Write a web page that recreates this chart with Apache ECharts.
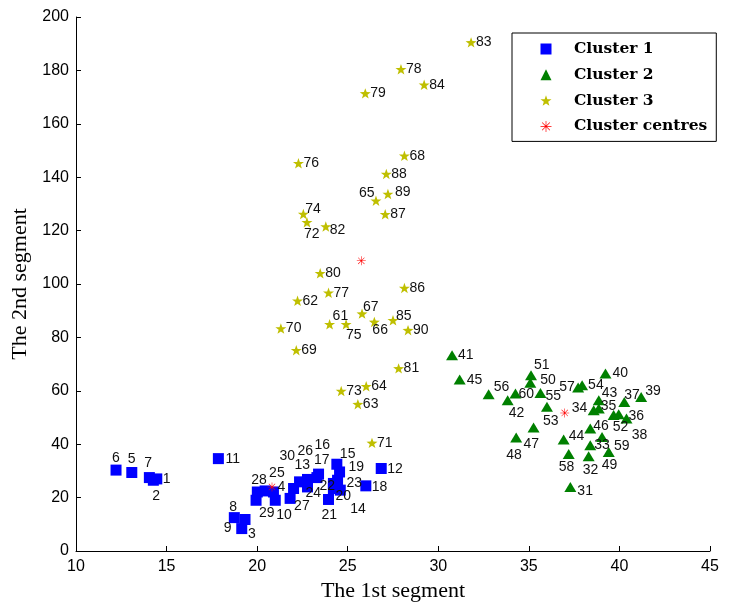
<!DOCTYPE html>
<html>
<head>
<meta charset="utf-8">
<script src="https://cdn.jsdelivr.net/npm/echarts@6/dist/echarts.min.js"></script>
<style>
html,body{margin:0;padding:0;background:#fff;}
#chart{width:733px;height:606px;}
</style>
</head>
<body>
<div id="chart"></div>
<script>
// ---------- data ----------
const xTicks = [10, 15, 20, 25, 30, 35, 40, 45];
const yTicks = [0, 20, 40, 60, 80, 100, 120, 140, 160, 180, 200];

const cluster1Ids = [1,2,3,4,5,6,7,8,9,10,11,12,13,14,15,16,17,18,19,20,21,22,23,24,25,26,27,28,29,30];
const cluster1X = [14.46,14.27,19.33,20.90,13.08,12.21,14.05,18.74,19.15,21.00,17.86,26.85,22.34,24.59,24.40,23.39,23.30,26.00,24.55,24.21,23.94,24.21,24.44,22.78,20.44,22.78,21.82,20.01,19.94,22.01];
const cluster1Y = [27.0,26.5,11.8,22.1,29.4,30.3,27.5,12.5,8.4,19.0,34.6,30.9,25.9,22.8,32.5,28.8,27.5,24.4,29.6,23.4,19.3,25.3,26.5,24.0,22.5,26.8,19.7,22.1,19.0,23.4];

const cluster2Ids = [31,32,33,34,35,36,37,38,39,40,41,42,43,44,45,46,47,48,49,50,51,52,53,54,55,56,57,58,59,60];
const cluster2X = [37.29,38.30,38.39,38.58,38.86,40.39,40.27,39.96,41.20,39.23,30.76,33.83,38.86,36.92,31.18,38.39,35.26,34.30,39.41,35.08,35.12,39.68,36.00,37.94,35.64,32.78,37.72,37.20,39.04,34.26];
const cluster2Y = [24.0,35.5,39.6,52.7,53.4,49.6,55.8,51.2,57.7,66.5,73.3,56.5,56.5,41.8,64.2,45.9,46.3,42.5,37.1,63.0,65.8,50.9,54.0,62.1,59.2,58.7,61.2,36.3,42.7,59.0];

const cluster3Ids = [61,62,63,64,65,66,67,68,69,70,71,72,73,74,75,76,77,78,79,80,81,82,83,84,85,86,87,88,89,90];
const cluster3X = [24.00,22.23,25.56,26.02,26.56,26.47,25.79,28.13,22.16,21.31,26.34,22.75,24.64,22.55,24.91,22.28,23.94,27.94,25.97,23.48,27.81,23.79,31.81,29.22,27.50,28.13,27.07,27.13,27.22,28.33];
const cluster3Y = [84.9,93.7,55.0,61.7,131.2,85.8,88.9,148.0,75.2,83.3,40.5,123.1,59.9,126.2,84.9,145.2,96.7,180.4,171.4,104.0,68.4,121.5,190.5,174.6,86.4,98.5,126.1,141.2,133.7,82.7];

const centreX = [20.82, 36.98, 25.75];
const centreY = [24.0, 51.7, 108.7];

const seriesNames = ['Cluster 1', 'Cluster 2', 'Cluster 3', 'Cluster centres'];

// ---------- styling (label placement in pixels, relative to marker centre) ----------
const labelOffsets = {
  1:[6,0], 2:[-1,16], 3:[3,15], 4:[4,-5], 5:[-4,-13], 6:[-4,-12], 7:[-5,-14], 8:[-5,-10], 9:[-18,0],
  10:[1,15], 11:[7,1], 12:[6,1], 13:[-5,-17], 14:[10,19], 15:[3,-10], 16:[-4,-29], 17:[-3,-17],
  18:[6,1], 19:[9,-5], 20:[2,8], 21:[-7,16], 22:[-14,3], 23:[9,3], 24:[-2,6], 25:[4,-18],
  26:[-10,-28], 27:[4,8], 28:[-6,-12], 29:[3,13], 30:[-14,-32],
  31:[7,4], 32:[-6,14], 33:[4,0], 34:[-22,-2], 35:[2,-2], 36:[2,-2], 37:[0,-7], 38:[13,21],
  39:[4,-6], 40:[7,0], 41:[6,0], 42:[1,13], 43:[3,-7], 44:[5,-3], 45:[7,1], 46:[3,-2],
  47:[-10,17], 48:[-10,18], 49:[-7,13], 50:[10,-3], 51:[3,-10], 52:[-1,12], 53:[-4,14],
  54:[6,0], 55:[5,3], 56:[5,-7], 57:[-19,0], 58:[-10,13], 59:[12,9], 60:[3,1],
  65:[-17,-8], 66:[-2,8], 67:[1,-6], 61:[3,-8], 72:[-3,12], 74:[2,-5], 75:[0,11], 82:[4,4],
  85:[3,-4], 89:[7,-2]
};
function offsetFor(id){ return labelOffsets[id] || [5,0]; }

const STAR = 'path://M50,0 L61.76,33.82 L97.55,34.55 L69.02,56.18 L79.39,90.45 L50,70 L20.61,90.45 L30.98,56.18 L2.45,34.55 L38.24,33.82 Z';
const ASTER = 'path://M0,9.4 L20,9.4 L20,10.6 L0,10.6 Z M9.4,0 L10.6,0 L10.6,20 L9.4,20 Z M2.5,3.35 L3.35,2.5 L17.5,16.65 L16.65,17.5 Z M16.65,2.5 L17.5,3.35 L3.35,17.5 L2.5,16.65 Z';

function buildData(ids, xs, ys){
  return ids.map((id, i) => ({
    value: [xs[i], ys[i]],
    name: String(id),
    label: { offset: offsetFor(id) }
  }));
}

const labelBase = {
  show: true,
  position: 'inside',
  align: 'left',
  verticalAlign: 'middle',
  formatter: p => p.name,
  fontFamily: 'Liberation Sans, Arial, sans-serif',
  fontSize: 14,
  color: '#111'
};

const chart = echarts.init(document.getElementById('chart'), null, {renderer: 'canvas'});
chart.setOption({
  animation: false,
  backgroundColor: '#fff',
  grid: { left: 76, right: 23, top: 17, bottom: 55, outerBoundsMode: 'none', containLabel: false },
  xAxis: {
    type: 'value', min: xTicks[0], max: xTicks[xTicks.length-1], interval: 5,
    name: 'The 1st segment', nameLocation: 'middle', nameGap: 28,
    nameTextStyle: { fontFamily: 'Liberation Serif, Times New Roman, serif', fontSize: 22, color: '#000' },
    axisLine: { show: true, onZero: false, lineStyle: { color: '#000', width: 1 } },
    axisTick: { show: true, inside: true, length: 5, lineStyle: { color: '#000' } },
    axisLabel: { fontFamily: 'Liberation Sans, Arial, sans-serif', fontSize: 16, color: '#000', margin: 8,
      formatter: v => xTicks.includes(v) ? String(v) : '' },
    splitLine: { show: false }
  },
  yAxis: {
    type: 'value', min: yTicks[0], max: yTicks[yTicks.length-1], interval: 20,
    name: 'The 2nd segment', nameLocation: 'middle', nameGap: 43, nameRotate: 90,
    nameTextStyle: { fontFamily: 'Liberation Serif, Times New Roman, serif', fontSize: 22, color: '#000' },
    axisLine: { show: true, onZero: false, lineStyle: { color: '#000', width: 1 } },
    axisTick: { show: true, inside: true, length: 5, lineStyle: { color: '#000' } },
    axisLabel: { fontFamily: 'Liberation Sans, Arial, sans-serif', fontSize: 16, color: '#000', margin: 7,
      formatter: v => yTicks.includes(v) ? String(v) : '' },
    splitLine: { show: false }
  },
  legend: {
    orient: 'vertical', left: 512, top: 33,
    padding: [8, 9, 7, 28.5],
    itemWidth: 11, itemHeight: 11, itemGap: 9.8,
    symbolKeepAspect: true,
    borderColor: '#000', borderWidth: 1, backgroundColor: '#fff',
    selectedMode: false,
    textStyle: { fontFamily: 'DejaVu Serif, serif', fontWeight: 'bold', fontSize: 15.5, lineHeight: 16,
      color: '#000', padding: [0, 0, 0, 17.5] },
    data: [
      { name: seriesNames[0], icon: 'rect' },
      { name: seriesNames[1], icon: 'triangle' },
      { name: seriesNames[2], icon: STAR },
      { name: seriesNames[3], icon: ASTER }
    ]
  },
  series: [
    { name: seriesNames[0], type: 'scatter', symbol: 'rect', symbolSize: 11,
      itemStyle: { color: '#0000ff', opacity: 1 }, label: labelBase, emphasis: { disabled: true },
      data: buildData(cluster1Ids, cluster1X, cluster1Y) },
    { name: seriesNames[1], type: 'scatter', symbol: 'triangle', symbolSize: [12, 10],
      itemStyle: { color: '#008000', opacity: 1 }, label: labelBase, emphasis: { disabled: true },
      data: buildData(cluster2Ids, cluster2X, cluster2Y) },
    { name: seriesNames[2], type: 'scatter', symbol: STAR, symbolSize: 11, symbolKeepAspect: true,
      itemStyle: { color: '#bfbf00', opacity: 1 }, label: labelBase, emphasis: { disabled: true },
      data: buildData(cluster3Ids, cluster3X, cluster3Y) },
    { name: seriesNames[3], type: 'scatter', symbol: ASTER, symbolSize: 9,
      itemStyle: { color: '#ff0000', opacity: 1 }, emphasis: { disabled: true },
      data: centreX.map((x, i) => [x, centreY[i]]) }
  ]
});
</script>
</body>
</html>
